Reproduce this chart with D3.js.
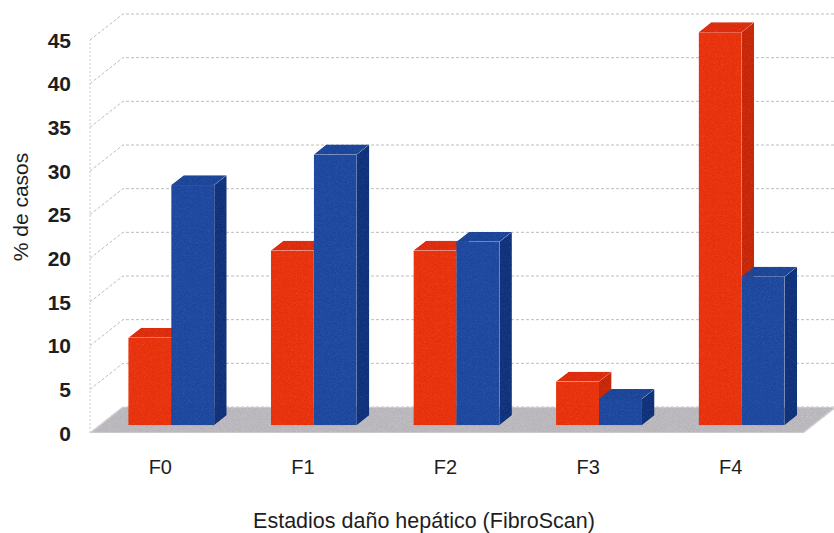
<!DOCTYPE html>
<html>
<head>
<meta charset="utf-8">
<script src="https://cdn.jsdelivr.net/npm/d3@7"></script>
<style>
  html, body { margin: 0; padding: 0; background: #fff; }
  svg { display: block; }
  text { font-family: Arial, "Liberation Sans", sans-serif; fill: #1e1e1e; }
</style>
</head>
<body>
<div id="chart"></div>
<script>
// Categories and the two series (% of cases per liver-damage stage)
const categories = ["F0", "F1", "F2", "F3", "F4"];
const seriesA = [10, 20, 20, 5, 45];
const seriesB = [27.5, 31, 21, 3, 17];
const yTicks = [0, 5, 10, 15, 20, 25, 30, 35, 40, 45];
const yTitle = "% de casos";
const xTitle = "Estadios daño hepático (FibroScan)";

const W = 834, H = 533;
const svg = d3.select("#chart").append("svg")
  .attr("width", W).attr("height", H);

// grainy surface for the columns and floor
const defs = svg.append("defs");
const grain = defs.append("filter").attr("id", "grain")
  .attr("color-interpolation-filters", "sRGB")
  .attr("x", 0).attr("y", 0).attr("width", 1).attr("height", 1);
grain.append("feTurbulence").attr("type", "fractalNoise")
  .attr("baseFrequency", 0.85).attr("numOctaves", 2).attr("seed", 4).attr("result", "noise");
grain.append("feColorMatrix").attr("in", "noise").attr("type", "saturate").attr("values", 0).attr("result", "gray");
grain.append("feComposite").attr("in", "SourceGraphic").attr("in2", "gray")
  .attr("operator", "arithmetic").attr("k1", 0).attr("k2", 1).attr("k3", 0.22).attr("k4", -0.11).attr("result", "mix");
grain.append("feComposite").attr("in", "mix").attr("in2", "SourceAlpha").attr("operator", "in");

// front plane scales
const x = d3.scaleBand().domain(categories).range([90, 803]);
const y = d3.scaleLinear().domain([0, 45]).range([433, 40]);
const sub = d3.scaleBand().domain(["a", "b"]).range([0, x.bandwidth()]).paddingOuter(0.66);

// depth projection: z = 0 front, z = 1 back wall
const DX = 33, DY = -26;
const proj = (px, py, z) => [px + z * DX, py + z * DY];

// back wall gridlines + left wall diagonals
const grid = svg.append("g");
yTicks.forEach(v => {
  const p0 = [90, y(v)];
  const p1 = proj(90, y(v), 1);
  grid.append("path")
    .attr("d", `M${p0[0]},${p0[1]}L${p1[0]},${p1[1]}L${W + 2},${p1[1]}`)
    .attr("fill", "none").attr("stroke", "#bdbdbd").attr("stroke-width", 1)
    .attr("stroke-dasharray", "3,2");
});
grid.append("line")
  .attr("x1", 90).attr("x2", 90).attr("y1", y(0)).attr("y2", y(45))
  .attr("stroke", "#c8c8c8").attr("stroke-dasharray", "2,2");

// floor
const f0 = [90, y(0)], f1 = [803, y(0)], f2 = proj(803, y(0), 1), f3 = proj(90, y(0), 1);
svg.append("path")
  .attr("d", `M${f0}L${f1}L${f2}L${f3}Z`)
  .attr("fill", "#c6c4c9").attr("stroke", "#dcdcdc").attr("stroke-width", 1.5)
  .attr("filter", "url(#grain)");

// columns
const Z0 = 0.3, Z1 = 0.68;
const colors = {
  a: { front: "#f4401a", side: "#d23416", top: "#e83a1a" },
  b: { front: "#2a55aa", side: "#1d3f88", top: "#2a52a4" }
};
const yb = d3.scaleLinear().domain([0, 45]).range([y(0), y(45)]);

function box(g, px, w, v, c) {
  const [fx, fy0] = proj(px, yb(0), Z0);
  const fy1 = fy0 - (yb(0) - yb(v));
  const ddx = (Z1 - Z0) * DX, ddy = (Z1 - Z0) * DY;
  // front face
  g.append("rect").attr("x", fx).attr("y", fy1).attr("width", w).attr("height", fy0 - fy1)
    .attr("fill", c.front);
  // right side face
  g.append("path")
    .attr("d", `M${fx + w},${fy1}L${fx + w + ddx},${fy1 + ddy}L${fx + w + ddx},${fy0 + ddy}L${fx + w},${fy0}Z`)
    .attr("fill", c.side);
  // top face
  g.append("path")
    .attr("d", `M${fx},${fy1}L${fx + ddx},${fy1 + ddy}L${fx + w + ddx},${fy1 + ddy}L${fx + w},${fy1}Z`)
    .attr("fill", c.top);
}

const bars = svg.append("g").attr("filter", "url(#grain)");
categories.forEach((cat, i) => {
  const g = bars.append("g");
  box(g, x(cat) + sub("a"), sub.bandwidth(), seriesA[i], colors.a);
  box(g, x(cat) + sub("b"), sub.bandwidth(), seriesB[i], colors.b);
});

// y axis tick labels
svg.append("g").selectAll("text").data(yTicks).join("text")
  .attr("x", 71).attr("y", d => y(d)).attr("dy", "0.36em")
  .attr("text-anchor", "end").attr("font-size", 21).attr("font-weight", "bold")
  .text(d => d);

// category labels
svg.append("g").selectAll("text").data(categories).join("text")
  .attr("x", d => x(d) + x.bandwidth() / 2 - 1).attr("y", 467).attr("dy", "0.36em")
  .attr("text-anchor", "middle").attr("font-size", 20)
  .text(d => d);

// axis titles
svg.append("text")
  .attr("transform", "translate(20,207) rotate(-90)")
  .attr("text-anchor", "middle").attr("dy", "0.36em").attr("font-size", 21)
  .text(yTitle);
svg.append("text")
  .attr("x", 424).attr("y", 520).attr("dy", "0.36em")
  .attr("text-anchor", "middle").attr("font-size", 21.5)
  .text(xTitle);
</script>
</body>
</html>
